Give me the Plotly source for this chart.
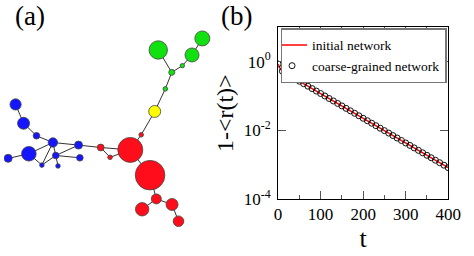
import plotly.graph_objects as go

# ---------------- Panel (a): network ----------------
node_names = ["G1", "G2", "G3", "G4", "G5", "G6", "Y",
              "R1", "R2", "R3", "R4", "R5", "R6", "R7", "R8", "R9",
              "B1", "B2", "B3", "B4", "B5", "B6", "B7", "B8", "B9", "B10", "B11"]
node_x = [160, 205.7, 195, 185, 174, 167.3, 156.3,
          142.3, 131, 151.5, 158, 143.3, 174.3, 181, 100.3, 110,
          12, 20.3, 33.7, 50.7, 77.3, 25.8, 4.3, 53.7, 78.7, 39.3, 56]
node_y = [52, 40, 57.2, 68.3, 75.3, 92.5, 116,
          140.3, 156, 182.3, 207, 217.8, 212.8, 230.2, 153.5, 163.7,
          108.7, 128.3, 141.3, 148.3, 151, 160, 164.8, 161.8, 164.2, 171.8, 172.7]
node_r = [9.2, 7.5, 7, 2.2, 3, 2.3, 6,
          2.3, 12.5, 14.8, 5, 6.7, 6, 5.3, 3.4, 2.3,
          5.6, 6, 3.3, 4.7, 4, 7.3, 4, 3.3, 3.3, 2.3, 2.3]
node_color = ["#11e011"] * 6 + ["#ffff00"] + ["#ff0d1a"] * 9 + ["#1515ff"] * 11
edges = [("G1", "G5"), ("G5", "G4"), ("G4", "G3"), ("G3", "G2"), ("G5", "G6"),
         ("G6", "Y"), ("Y", "R1"), ("R1", "R2"), ("R2", "R3"), ("R3", "R4"),
         ("R4", "R5"), ("R4", "R6"), ("R6", "R7"), ("R8", "R2"), ("R8", "R9"),
         ("R9", "R2"), ("B5", "R8"),
         ("B1", "B2"), ("B2", "B3"), ("B3", "B4"), ("B4", "B5"), ("B4", "B6"),
         ("B6", "B7"), ("B4", "B10"), ("B6", "B10"), ("B10", "B8"), ("B4", "B8"),
         ("B8", "B5"), ("B8", "B9"), ("B8", "B11")]

# ---------------- Panel (b): decay ----------------
t_initial = [0, 5, 10, 20, 30, 40, 50, 60, 70, 80, 90, 100, 110, 120, 130, 140, 150,
             160, 170, 180, 190, 200, 210, 220, 230, 240, 250, 260, 270, 280, 290,
             300, 310, 320, 330, 340, 350, 360, 370, 380, 390, 400]
r_initial = [0.85, 0.62, 0.525, 0.442, 0.374, 0.317, 0.269, 0.228, 0.193, 0.164, 0.139,
             0.118, 0.0998, 0.0846, 0.0717, 0.0608, 0.0515, 0.0437, 0.0370, 0.0314,
             0.0266, 0.0225, 0.0191, 0.0162, 0.0137, 0.0116, 0.00986, 0.00836,
             0.00708, 0.00601, 0.00509, 0.00431, 0.00366, 0.00310, 0.00263, 0.00223,
             0.00189, 0.00160, 0.00136, 0.00115, 0.000975, 0.000826]
t_coarse = [0, 10, 20, 30, 40, 50, 60, 70, 80, 90, 100, 110, 120, 130, 140, 150,
            160, 170, 180, 190, 200, 210, 220, 230, 240, 250, 260, 270, 280, 290,
            300, 310, 320, 330, 340, 350, 360, 370, 380, 390, 400]
r_coarse = [0.85, 0.525, 0.442, 0.374, 0.317, 0.269, 0.228, 0.193, 0.164, 0.139,
            0.118, 0.0998, 0.0846, 0.0717, 0.0608, 0.0515, 0.0437, 0.0370, 0.0314,
            0.0266, 0.0225, 0.0191, 0.0162, 0.0137, 0.0116, 0.00986, 0.00836,
            0.00708, 0.00601, 0.00509, 0.00431, 0.00366, 0.00310, 0.00263, 0.00223,
            0.00189, 0.00160, 0.00136, 0.00115, 0.000975, 0.000826]
x_tick_vals = [0, 100, 200, 300, 400]
y_tick_vals = [1, 0.01, 0.0001]
y_tick_text = ["10<sup>0</sup>", "10<sup>-2</sup>", "10<sup>-4</sup>"]

SERIF = "Liberation Serif, Times New Roman, serif"
W, H = 474, 256

fig = go.Figure()

idx = {n: i for i, n in enumerate(node_names)}
ex, ey = [], []
for a, b in edges:
    ex += [node_x[idx[a]], node_x[idx[b]], None]
    ey += [node_y[idx[a]], node_y[idx[b]], None]
fig.add_trace(go.Scatter(x=ex, y=ey, mode="lines", line=dict(color="#333333", width=1),
                         hoverinfo="skip", showlegend=False, xaxis="x", yaxis="y"))
fig.add_trace(go.Scatter(x=node_x, y=node_y, mode="markers", text=node_names,
                         marker=dict(size=[2 * r for r in node_r], color=node_color,
                                     opacity=1, sizemode="diameter",
                                     line=dict(color="#444444", width=0.8)),
                         showlegend=False, xaxis="x", yaxis="y"))

fig.add_trace(go.Scatter(x=t_initial, y=r_initial, mode="lines", name="initial network",
                         line=dict(color="#ff0000", width=1.5), xaxis="x2", yaxis="y2"))
fig.add_trace(go.Scatter(x=t_coarse, y=r_coarse, mode="markers", name="coarse-grained network",
                         marker=dict(symbol="circle-open", size=6, color="#111111",
                                     line=dict(width=1)), xaxis="x2", yaxis="y2"))

fig.update_layout(
    width=W, height=H, margin=dict(l=0, r=0, t=0, b=0),
    paper_bgcolor="white", plot_bgcolor="white",
    font=dict(family=SERIF, color="black"),
    xaxis=dict(domain=[0, 237 / W], range=[0, 237], visible=False, fixedrange=True),
    yaxis=dict(domain=[0, 1], range=[256, 0], visible=False, fixedrange=True),
    xaxis2=dict(domain=[284.3 / W, 460.7 / W], range=[0, 400], anchor="y2",
                tickmode="array", tickvals=x_tick_vals, ticks="inside", ticklen=8,
                tickcolor="#555555", showline=True, linecolor="black", linewidth=1,
                mirror="ticks", showgrid=False, zeroline=False,
                minor=dict(dtick=50, ticks="inside", ticklen=4, tickcolor="#555555"),
                tickfont=dict(size=17, family=SERIF), ticklabelstandoff=-1,
                title=dict(text="t", font=dict(size=26, family=SERIF), standoff=0)),
    yaxis2=dict(domain=[1 - 207.3 / H, 1 - 28.3 / H], type="log", range=[-4, 1],
                anchor="x2", tickmode="array", tickvals=y_tick_vals, ticktext=y_tick_text,
                ticks="inside", ticklen=8, tickcolor="#555555", showline=True,
                linecolor="black", linewidth=1, mirror="ticks", showgrid=False,
                zeroline=False, tickfont=dict(size=17, family=SERIF), ticklabelstandoff=3,
                title=dict(text="1-&lt;r(t)&gt;", font=dict(size=24, family=SERIF), standoff=3)),
    legend=dict(x=459 / W, y=1 - 29.5 / H, xanchor="right", yanchor="top",
                bgcolor="white", bordercolor="#777777", borderwidth=1.5,
                font=dict(size=13.5, family=SERIF), itemwidth=30, indentation=-10,
                tracegroupgap=0),
    annotations=[
        dict(text="(a)", x=26.5 / W, y=1 - 17 / H, xref="paper", yref="paper",
             xanchor="center", yanchor="middle",
             showarrow=False, font=dict(size=27, family=SERIF)),
        dict(text="(b)", x=241.5 / W, y=1 - 17 / H, xref="paper", yref="paper",
             xanchor="center", yanchor="middle",
             showarrow=False, font=dict(size=27, family=SERIF)),
    ],
)

fig.write_html("out.html", config={"displayModeBar": False},
               post_script="document.body.style.margin='0';document.body.style.overflow='hidden';")
